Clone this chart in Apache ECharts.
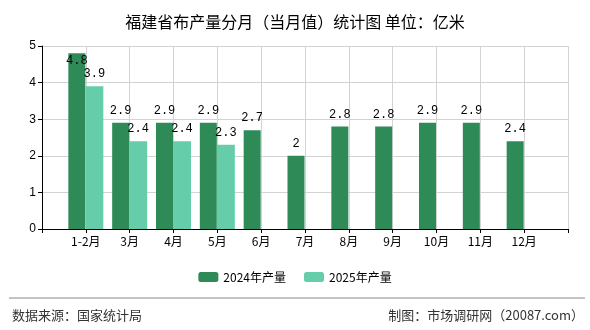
<!DOCTYPE html>
<html><head><meta charset="utf-8">
<script src="https://cdn.jsdelivr.net/npm/echarts@6/dist/echarts.min.js"></script>
<style>html,body{margin:0;padding:0;background:#fff}#c{width:590px;height:330px}</style>
</head><body><div id="c"></div>
<script>
var categories = ['1-2月','3月','4月','5月','6月','7月','8月','9月','10月','11月','12月'];
var values2024 = [4.8, 2.9, 2.9, 2.9, 2.7, 2, 2.8, 2.8, 2.9, 2.9, 2.4];
var values2025 = [3.9, 2.4, 2.4, 2.3, null, null, null, null, null, null, null];
var seriesNames = ['2024年产量', '2025年产量'];
var yTicks = [0, 1, 2, 3, 4, 5];

var axisData = [''].concat(categories).concat(['']);
function pad(arr){ return [null].concat(arr).concat([null]); }
var labelFont = {fontFamily:'Liberation Mono', fontSize:12, color:'#000'};
function mk(arr){
  return pad(arr).map(function(v){
    if (v === null) return null;
    return {value:v, label: v > 4.5 ? {position:'insideTop', distance:2} : {}};
  });
}
var chart = echarts.init(document.getElementById('c'));
chart.setOption({
  animation:false,
  title:{text:'福建省布产量分月（当月值）统计图 单位：亿米', left:'center', top:9,
    textStyle:{fontSize:16, fontWeight:'normal', color:'#000', fontFamily:'Noto Sans CJK SC'}},
  grid:{left:42, right:22, top:46, bottom:101},
  legend:{data:seriesNames, bottom:42, left:'center', itemWidth:20, itemHeight:10, itemGap:18,
    textStyle:{fontSize:12, color:'#000', fontFamily:'Noto Sans CJK SC'}},
  xAxis:{type:'category', data:axisData, boundaryGap:false,
    axisLine:{lineStyle:{color:'#000'}},
    axisTick:{length:4, lineStyle:{color:'#000'}},
    axisLabel:{color:'#000', fontSize:12, margin:6, fontFamily:'Noto Sans CJK SC', interval:0},
    splitLine:{show:true, lineStyle:{color:'#d3d3d3'}}},
  yAxis:{type:'value', min:yTicks[0], max:yTicks[yTicks.length-1], interval:1,
    axisLine:{show:true, lineStyle:{color:'#000'}},
    axisTick:{show:true, length:4, lineStyle:{color:'#000'}},
    axisLabel:{color:'#000', fontSize:12, margin:6},
    splitLine:{lineStyle:{color:'#d3d3d3'}}},
  series:[
    {name:seriesNames[0], type:'bar', data:mk(values2024), barWidth:17, barGap:'0%',
      itemStyle:{color:'#2E8B57'}, label:Object.assign({show:true, position:'top', distance:6}, labelFont)},
    {name:seriesNames[1], type:'bar', data:mk(values2025), barWidth:18, barGap:'0%',
      itemStyle:{color:'#66CDAA'}, label:Object.assign({show:true, position:'top', distance:6}, labelFont)}
  ],
  graphic:[
    {type:'line', shape:{x1:9, y1:298, x2:585, y2:298}, style:{stroke:'#888', lineWidth:1}},
    {type:'text', left:12, top:309, style:{text:'数据来源：国家统计局', font:'13px "Noto Sans CJK SC"', fill:'#333'}},
    {type:'text', right:6, top:309, style:{text:'制图：市场调研网（20087.com）', font:'13px "Noto Sans CJK SC"', fill:'#333'}}
  ]
});
</script></body></html>
